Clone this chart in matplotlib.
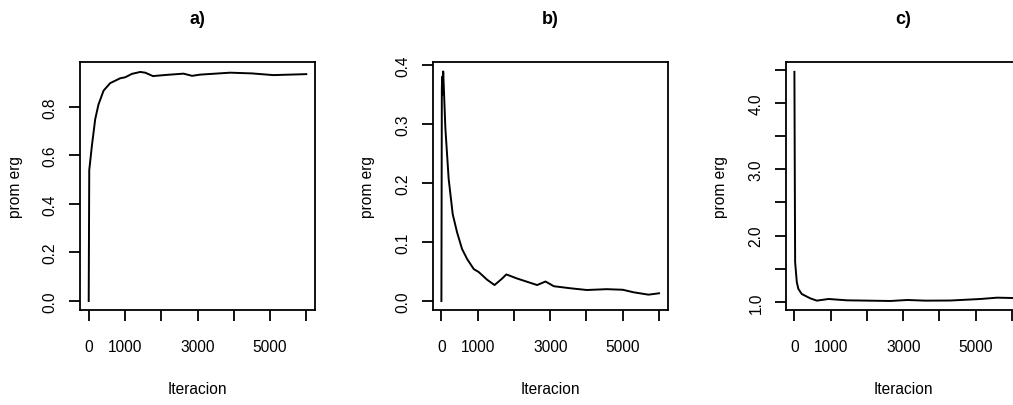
import matplotlib
matplotlib.use("Agg")
import matplotlib.pyplot as plt

plt.rcParams['font.family'] = ['Liberation Sans', 'DejaVu Sans']

# Panel a
iter_a = [0, 15, 30, 88, 180, 270, 410, 593, 870, 1007, 1190, 1420, 1560, 1770,
          2160, 2615, 2850, 3075, 3900, 4500, 5090, 6000]
vals_a = [0.0, 0.54, 0.56, 0.64, 0.75, 0.81, 0.867, 0.898, 0.918, 0.922, 0.936,
          0.944, 0.941, 0.927, 0.932, 0.937, 0.928, 0.933, 0.941, 0.938, 0.931, 0.935]

# Panel b
iter_b = [0, 12, 22, 32, 50, 80, 110, 200, 312, 433, 570, 710, 893, 1030, 1260,
          1465, 1675, 1790, 2090, 2640, 2870, 3100, 3560, 4010, 4560, 5000, 5300,
          5710, 6000]
vals_b = [0.0, 0.36, 0.38, 0.35, 0.389, 0.34, 0.292, 0.207, 0.147, 0.116, 0.088,
          0.071, 0.054, 0.049, 0.036, 0.027, 0.038, 0.045, 0.038, 0.027, 0.033,
          0.025, 0.0215, 0.0186, 0.020, 0.019, 0.0147, 0.0107, 0.013]

# Panel c
iter_c = [0, 20, 66, 110, 203, 433, 618, 939, 1446, 2650, 3110, 3620, 4300,
          5130, 5590, 6000]
vals_c = [4.47, 1.60, 1.30, 1.196, 1.12, 1.056, 1.02, 1.045, 1.025, 1.015, 1.03,
          1.02, 1.022, 1.045, 1.065, 1.06]

titles = ["a)", "b)", "c)"]
xticks = [0, 1000, 2000, 3000, 4000, 5000, 6000]
xticklabels = ["0", "1000", "", "3000", "", "5000", ""]
yticks_a = [0.0, 0.2, 0.4, 0.6, 0.8]
yticklabels_a = ["0.0", "0.2", "0.4", "0.6", "0.8"]
yticks_b = [0.0, 0.1, 0.2, 0.3, 0.4]
yticklabels_b = ["0.0", "0.1", "0.2", "0.3", "0.4"]
yticks_c = [1.0, 1.5, 2.0, 2.5, 3.0, 3.5, 4.0, 4.5]
yticklabels_c = ["1.0", "", "2.0", "", "3.0", "", "4.0", ""]

W, H = 1013, 406
fig = plt.figure(figsize=(W / 100, H / 100), dpi=100)

lefts = [80, 432.7, 785.7]
box_w, box_top, box_bot = 235, 63, 311
ylims = [(-0.037, 0.985), (-0.0153, 0.405), (0.879, 4.618)]
datasets = [(iter_a, vals_a), (iter_b, vals_b), (iter_c, vals_c)]
yts = [(yticks_a, yticklabels_a), (yticks_b, yticklabels_b), (yticks_c, yticklabels_c)]

for i in range(3):
    ax = fig.add_axes([lefts[i] / W, (H - box_bot) / H, box_w / W, (box_bot - box_top) / H])
    x, y = datasets[i]
    ax.plot(x, y, color="black", lw=1.4)
    ax.set_xlim(-240, 6240)
    ax.set_ylim(*ylims[i])
    ax.set_xticks(xticks)
    ax.set_xticklabels(xticklabels)
    ax.set_yticks(yts[i][0])
    ax.set_yticklabels(yts[i][1], rotation=90, va="center")
    for s in ax.spines.values():
        s.set_linewidth(1.3)
        s.set_color("black")
    ax.tick_params(axis="both", direction="out", length=8, width=1.3,
                   labelsize=11.2, colors="black")
    ax.tick_params(axis="x", pad=13)
    ax.tick_params(axis="y", pad=8)
    ax.set_xlabel("Iteracion", fontsize=11.2)
    ax.set_ylabel("prom erg", fontsize=11.2)
    ax.xaxis.set_label_coords(0.5, -(390 - box_bot) / (box_bot - box_top))
    ax.xaxis.label.set_va("center")
    ax.yaxis.set_label_coords((15 - 80) / box_w, 0.5)
    ax.yaxis.label.set_va("center")
    ax.set_title(titles[i], y=1 + (box_top - 20) / (box_bot - box_top), pad=0,
                 va="center", fontweight="bold", fontsize=13)

fig.savefig("out.png", dpi=100)
